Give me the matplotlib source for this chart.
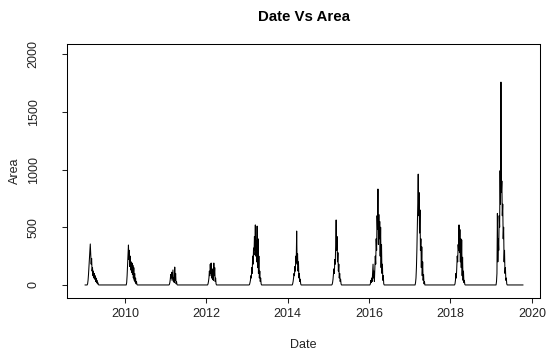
"""Daily area series 2009-2019, drawn in the style of an R base-graphics line plot."""

import matplotlib

matplotlib.use("Agg")
import matplotlib.pyplot as plt
import numpy as np

plt.rcParams["font.family"] = ["Liberation Sans", "DejaVu Sans"]

# Series begins and ends at zero; between the wet seasons the area is zero.
SERIES_START = 2009.02
SERIES_END = 2019.78
STEP_YEARS = 4 / 365.25  # readings are roughly every four days inside a season

# Each season: first reading (decimal year) and the readings that follow it.
season_starts = [2009.07, 2010.03, 2011.08, 2012.03, 2013.05, 2014.11,
                 2015.08, 2016.02, 2017.13, 2018.10, 2019.12]
area_2009 = [0, 10, 40, 90, 160, 230, 300, 355, 260, 180, 230, 120, 150, 80,
             120, 60, 100, 50, 80, 30, 60, 20, 40, 10, 20, 5, 0]
area_2010 = [0, 20, 80, 180, 260, 346, 220, 300, 160, 250, 130, 200, 110, 190,
             90, 170, 60, 150, 40, 100, 25, 60, 10, 30, 5, 0]
area_2011 = [0, 5, 20, 50, 90, 60, 110, 40, 80, 130, 30, 60, 20, 155, 40, 100,
             10, 30, 5, 0]
area_2012 = [0, 10, 30, 60, 120, 80, 180, 100, 190, 60, 140, 50, 110, 40, 190,
             80, 150, 30, 60, 10, 0]
area_2013 = [0, 5, 20, 40, 80, 60, 150, 100, 250, 180, 320, 260, 420, 300, 520,
             250, 380, 200, 510, 150, 400, 100, 250, 60, 120, 30, 60, 10, 0]
area_2014 = [0, 10, 30, 60, 100, 80, 160, 120, 250, 200, 467, 180, 270, 120,
             200, 60, 100, 30, 50, 10, 0]
area_2015 = [0, 5, 20, 50, 90, 140, 100, 220, 180, 350, 563, 300, 420, 200, 280,
             120, 180, 60, 100, 30, 50, 10, 0]
area_2016 = [0, 10, 40, 20, 60, 30, 100, 180, 60, 120, 30, 150, 250, 180, 400,
             300, 600, 480, 831, 350, 610, 400, 550, 250, 500, 150, 350, 100,
             180, 40, 80, 10, 0]
area_2017 = [0, 20, 60, 150, 300, 500, 700, 960, 600, 800, 450, 650, 300, 400,
             150, 330, 80, 200, 40, 90, 10, 30, 0]
area_2018 = [0, 10, 40, 100, 60, 150, 250, 200, 350, 300, 520, 280, 480, 200,
             400, 150, 390, 80, 240, 40, 120, 20, 40, 5, 0]
area_2019 = [0, 30, 100, 620, 200, 400, 300, 600, 500, 990, 700, 1757, 800, 900,
             600, 700, 400, 500, 200, 300, 100, 150, 40, 60, 10, 0]

seasons = [area_2009, area_2010, area_2011, area_2012, area_2013, area_2014,
           area_2015, area_2016, area_2017, area_2018, area_2019]

x_ticks = [2010, 2012, 2014, 2016, 2018, 2020]
y_ticks = [0, 500, 1000, 1500, 2000]


def build_series():
    xs = [SERIES_START]
    ys = [0.0]
    for start, values in zip(season_starts, seasons, strict=True):
        xs.extend(start + STEP_YEARS * np.arange(len(values)))
        ys.extend(values)
    xs.append(SERIES_END)
    ys.append(0.0)
    return np.array(xs), np.array(ys, dtype=float)


def main():
    date, area = build_series()

    fig = plt.figure(figsize=(5.48, 3.56), dpi=100)
    ax = fig.add_axes([0.1223, 0.1629, 0.8631, 0.7135])
    ax.plot(date, area, color="black", lw=0.75)

    ax.set_xlim(2008.575, 2020.2)
    ax.set_ylim(-113, 2087)
    ax.set_xticks(x_ticks)
    ax.set_yticks(y_ticks)
    ax.set_yticklabels([str(v) for v in y_ticks], rotation=90, va="center")

    for spine in ax.spines.values():
        spine.set_linewidth(0.75)
        spine.set_color("black")
    ax.tick_params(axis="both", direction="out", length=3.6, width=0.75,
                   labelsize=9, colors="#222222")
    ax.tick_params(axis="x", pad=3.6)
    ax.tick_params(axis="y", pad=16)

    # R puts the axis titles three text lines out from the box.
    ax.set_xlabel("Date", fontsize=9, color="#222222", va="center")
    ax.set_ylabel("Area", fontsize=9, color="#222222", va="center")
    ax.xaxis.set_label_coords(0.5, (298 - 345) / 254)
    ax.yaxis.set_label_coords((15 - 67) / 473, 0.5)
    fig.text((0.1223 + 0.9854) / 2, 1 - 17 / 356, "Date Vs Area",
             ha="center", va="center", fontsize=10.8, fontweight="bold")

    fig.savefig("out.png", dpi=100)
    plt.close(fig)


if __name__ == "__main__":
    main()
